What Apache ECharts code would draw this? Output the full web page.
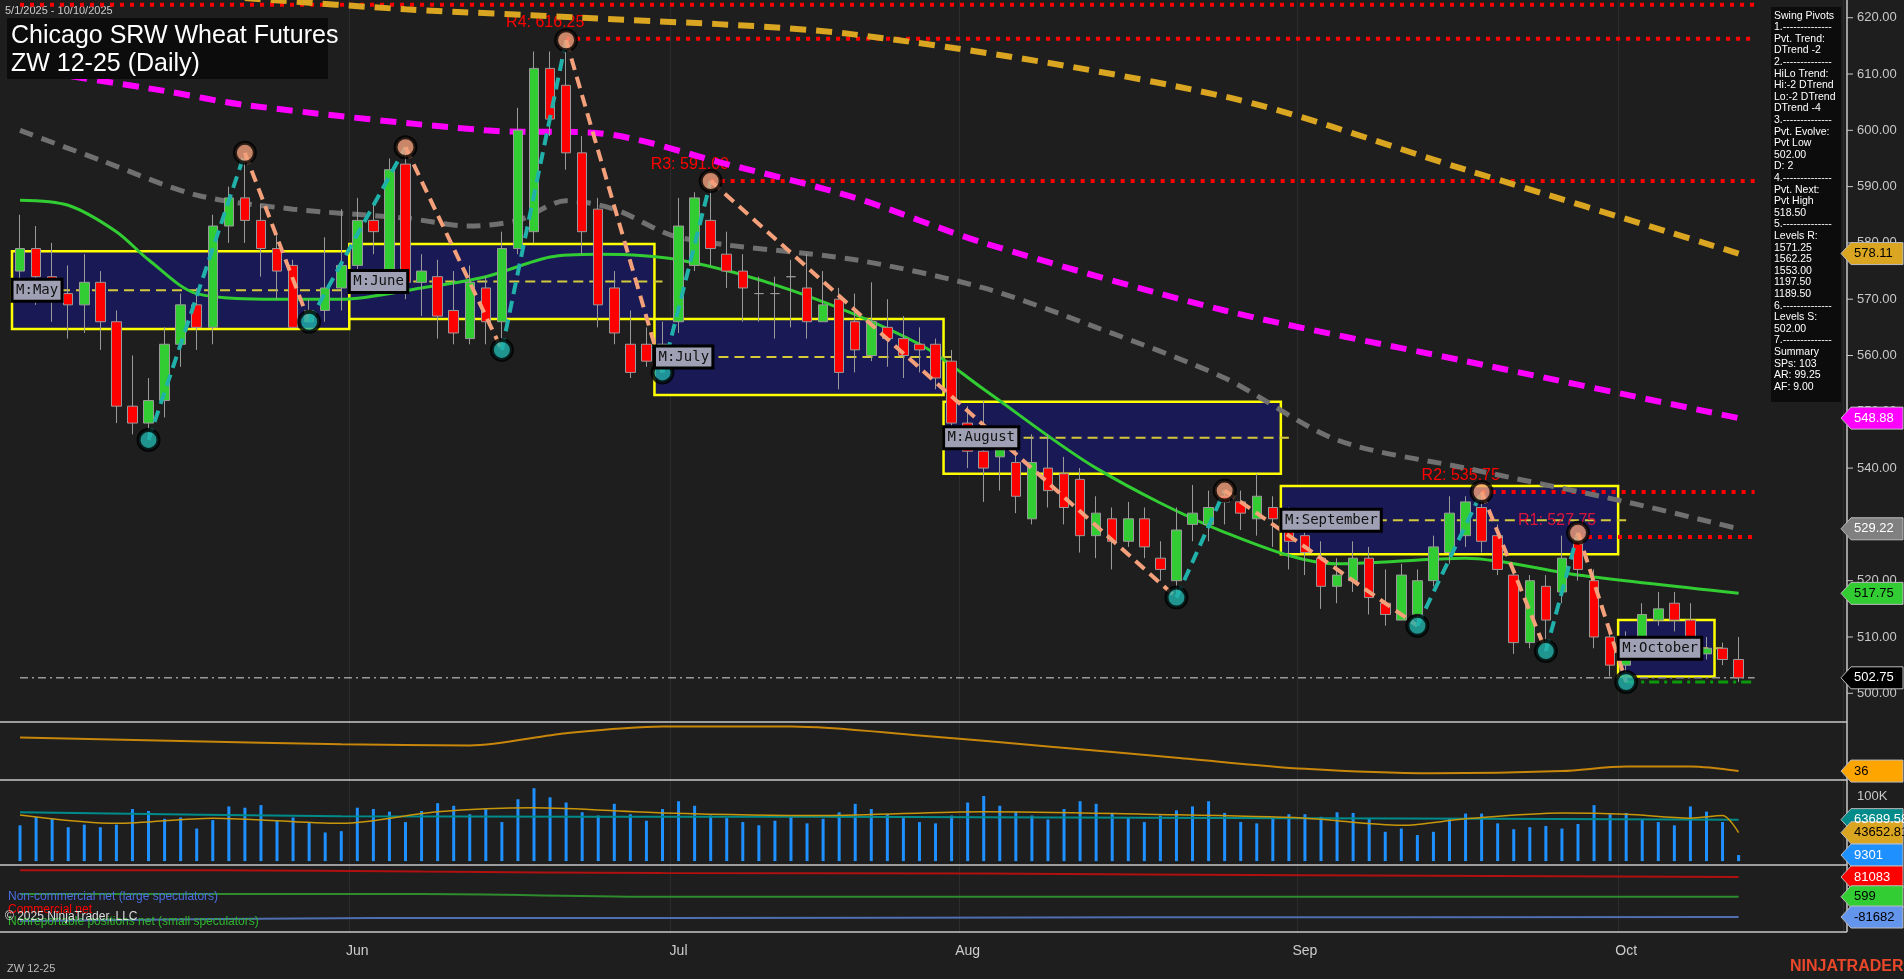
<!DOCTYPE html>
<html>
<head>
<meta charset="utf-8">
<script src="https://cdn.jsdelivr.net/npm/echarts@6/dist/echarts.min.js"></script>
<style>
  html, body { margin: 0; padding: 0; background: #1e1e1e; }
  #chart { width: 1904px; height: 979px; }
</style>
</head>
<body>
<div id="chart"></div>
<script>
// daily bars: [open, close, low, high]
const candles = [
  [575,579,570,585],[579,574,569,583],[574,571,566,580],[571,569,563,576],[569,573,564,578],
  [573,566,561,575],[566,551,548,568],[551,548,546,560],[548,552,545,556],[552,562,549,565],
  [562,569,558,571],[569,565,561,572],[565,583,562,585],[583,588,580,590],[588,584,580,596],
  [584,579,574,587],[579,575,570,582],[576,565,565,577],[566,568,566,570],[568,572,566,581],
  [572,576,568,586],[576,584,573,588],[584,582,578,587],[575,593,573,595],[594,573,570,597],
  [573,575,567,578],[574,567,563,577],[568,564,562,575],[563,573,562,576],[572,566,562,574],
  [566,579,561,582],[579,600,578,604],[582,611,580,614],[611,602,599,614],[608,596,593,616],
  [596,582,578,599],[586,569,565,588],[572,564,562,575],[562,557,556,568],[562,559,558,565],
  [559,562,557,566],[566,583,564,588],[576,588,575,589],[584,579,576,591],[578,575,572,582],
  [575,572,566,578],[571,571,566,574],[571,571,563,574],[574,574,565,577],[572,566,563,578],
  [566,569,566,575],[570,557,554,572],[566,561,557,571],[560,566,559,573],[565,563,558,570],
  [563,560,556,567],[562,561,557,565],[562,556,554,563],[559,548,545,561],[548,543,540,551],
  [543,540,534,552],[542,544,536,546],[541,535,532,544],[531,541,530,546],[540,536,533,546],
  [539,533,530,542],[538,528,525,540],[528,532,524,535],[531,527,522,533],[527,531,526,534],
  [531,526,524,533],[524,522,520,527],[520,529,517,533],[530,532,527,537],[530,533,527,536],
  [535,534,530,536],[534,532,529,536],[531,535,528,539],[533,531,526,535],[530,527,522,533],
  [528,525,521,532],[524,519,515,527],[519,521,516,524],[520,524,518,527],[524,517,514,526],
  [516,514,512,522],[513,521,513,523],[514,520,512,522],[520,526,519,528],[525,532,523,535],
  [528,534,526,535],[533,527,525,535.75],[528,522,521,530],[521,509,507,522],[509,520,508,521],
  [519,513,507.5,521],[518,524,516,528],[527,522,520,528.5],[520,510,508,522],[510,505,503,512],
  [505,510,502,511],[510,514,507,516],[513,515,512,518],[516,513,511,518],[513,507,506,516],
  [507,508,506,510],[508,506,505,509],[506,502.75,502,510]
];
const volumeK = [
  55,68,66,52,56,52,56,80,77,65, 67,50,63,84,82,86,62,67,60,44,
  46,82,80,76,60,77,89,85,72,80, 60,95,112,98,90,75,70,88,72,62,
  80,92,85,70,66,60,55,62,70,58, 65,75,88,80,72,66,60,58,70,90,
  100,85,76,70,64,80,92,88,74,66, 60,70,78,84,92,74,60,58,66,72,
  72,68,75,74,66,45,50,40,45,65, 73,73,58,49,52,54,50,57,86,72,
  74,64,60,55,84,76,60,9.301
];
const volAvgTeal = [[0,75],[20,69],[50,68],[80,66],[107,63.69]];
const volAvgGold = [[0,71],[6,58],[12,66],[20,58],[26,76],[32,82],[40,74],[50,70],[60,76],[70,72],[80,66],[86,55],[90,65],[96,74],[100,72],[104,66],[106,70],[107,43.65]];
const oscLine = [[0,51],[10,49.5],[20,48],[28,47.5],[34,53],[40,56],[48,56],[56,52],[64,47],[72,42],[80,37],[88,35],[96,36],[100,38],[104,38],[107,36]];
const cotCommercial = [[0,109],[12,109],[25,103],[40,97],[60,95],[80,88],[107,81.08]];
const cotSmall = [[0,12],[25,12],[40,0.6],[107,0.6]];
const cotLarge = [[0,-98],[22,-86],[40,-86],[70,-83],[107,-81.68]];
const maGreen = [[0,587.6],[3,586.7],[6,582],[8,577],[11,571],[16,570],[20,570],[25,572],[29,574],[33,577.5],[36,578],[41,577],[48,571.6],[56,562],[60,554],[67,540],[75,528.6],[82,523],[90,524],[97,521],[107,517.75]];
const maGray = [[0,600],[5,594.7],[11,588.5],[17,586],[24,584.4],[28,583],[31,584],[34,587.5],[37,586],[41,581],[52,577],[60,572],[67,565],[75,556],[82,545],[90,540],[100,534],[107,529.22]];
const maMagenta = [[0,611],[9,607],[14,604.5],[29,600],[36,599.5],[44,594],[52,588],[60,580],[75,568],[90,559],[107,548.88]];
const maOrange = [[14,623.5],[24,621.5],[35,620],[52,617],[75,606],[90,593],[107,578.11]];
const pivots = [[8,545,'L'],[14,596,'H'],[18,566,'L'],[24,597,'H'],[30,561,'L'],[34,616,'H'],[40,557,'L'],[43,591,'H'],[72,517,'L'],[75,536,'H'],[87,512,'L'],[91,535.75,'H'],[95,507.5,'L'],[97,528.5,'H'],[100,502,'L']];
const monthBoxes = [['May',0,20,564.7,578.5],['June',21,39,566.5,579.8],['July',40,57,553,566.5],['August',58,78,539,551.8],['September',79,99,524.7,536.8],['October',100,105,503,513]];
const levels = [['',0,622.3],['R4: 616.25',34,616.25],['R3: 591.00',43,591],['R2: 535.75',91,535.75],['R1: 527.75',97,527.75]];
const priceTicks = [500,510,520,530,540,550,560,570,580,590,600,610,620];
const monthTicks = {21:'Jun',41:'Jul',59:'Aug',80:'Sep',100:'Oct'};
const tags = [[578.11,'#DAA520','#000'],[548.88,'#FF00FF','#fff'],[529.22,'#808080','#fff'],[517.75,'#32CD32','#000'],[502.75,'#000','#fff']];
const pivotText = ['Swing Pivots','1.--------------','Pvt. Trend:','DTrend -2','2.--------------','HiLo Trend:','Hi:-2 DTrend','Lo:-2 DTrend','DTrend -4','3.--------------','Pvt. Evolve:','Pvt Low','502.00','D: 2','4.--------------','Pvt. Next:','Pvt High','518.50','5.--------------','Levels R:','1571.25','1562.25','1553.00','1197.50','1189.50','6.--------------','Levels S:','502.00','7.--------------','Summary','SPs: 103','AR: 99.25','AF: 9.00'];

const N = 114;
const cats = Array.from({length: N}, (_, i) => String(i));
const font = 'Arial, "Liberation Sans", sans-serif';

const chart = echarts.init(document.getElementById('chart'));
const grids = [
  {left: 12, width: 1831, top: 0, height: 722},
  {left: 12, width: 1831, top: 722, height: 58},
  {left: 12, width: 1831, top: 780, height: 85},
  {left: 12, width: 1831, top: 865, height: 67}
];
const xAxes = grids.map((g, i) => ({
  type: 'category', gridIndex: i, data: cats, boundaryGap: true,
  axisLine: {show: false}, axisTick: {show: false},
  axisLabel: {show: i === 3, color: '#ccc', fontSize: 14, fontFamily: font, margin: 12,
    interval: (idx) => monthTicks[idx] !== undefined, formatter: (v) => monthTicks[+v] || ''},
  splitLine: {show: true, interval: (idx) => monthTicks[idx] !== undefined, lineStyle: {color: '#2c2c2c'}}
}));
const yAxes = [
  {min: 494.9, max: 623.15},
  {min: 32, max: 58},
  {min: -6, max: 124.6},
  {min: -142.7, max: 129.9}
].map((r, i) => ({type: 'value', gridIndex: i, min: r.min, max: r.max, position: 'right',
  axisLabel: {show: false}, axisLine: {show: false}, axisTick: {show: false}, splitLine: {show: false}}));

const lineS = (data, color, width, type, xi) => ({
  type: 'line', xAxisIndex: xi || 0, yAxisIndex: xi || 0, data, symbol: 'none', smooth: 0.3,
  lineStyle: {color, width, type: type || 'solid'}, z: 3, silent: true
});

const series = [];
// month boxes
series.push({
  type: 'custom', xAxisIndex: 0, yAxisIndex: 0, z: 1, silent: true,
  data: monthBoxes.map(b => [b[1], b[2], b[3], b[4]]),
  renderItem: (params, api) => {
    const bw = api.size([1, 0])[0];
    const p1 = api.coord([api.value(0), api.value(3)]);
    const p2 = api.coord([api.value(1), api.value(2)]);
    const x1 = p1[0] - bw / 2, x2 = p2[0] + bw / 2;
    const mid = api.coord([0, (api.value(2) + api.value(3)) / 2])[1];
    return {type: 'group', children: [
      {type: 'rect', shape: {x: x1, y: p1[1], width: x2 - x1, height: p2[1] - p1[1]},
        style: {fill: '#191a55', stroke: '#ffff00', lineWidth: 2.5}},
      {type: 'line', shape: {x1: x1, y1: mid, x2: x2 + 8, y2: mid},
        style: {stroke: '#d4c93a', lineWidth: 2, lineDash: [10, 6]}}
    ]};
  }
});
// moving averages
series.push(lineS(maOrange, '#DAA520', 6, [16, 10]));
series.push(lineS(maMagenta, '#FF00FF', 6, [16, 10]));
series.push(lineS(maGray, '#707070', 5, [14, 9]));
series.push(lineS(maGreen, '#32CD32', 3));
// levels
levels.forEach(l => series.push({type: 'line', data: [[l[1], l[2]], [107.6, l[2]]], symbol: 'none', silent: true, z: 2,
  lineStyle: {color: '#ff0000', width: 4, type: [4, 6]}}));
series.push({type: 'line', data: [[100, 502], [107.6, 502]], symbol: 'none', silent: true, z: 2, lineStyle: {color: '#0a9a0a', width: 3, type: [10, 5, 3, 5]}});
series.push({type: 'line', data: [[0, 502.75], [107.6, 502.75]], symbol: 'none', silent: true, z: 2, lineStyle: {color: '#999', width: 1.5, type: [8, 4, 2, 4]}});
// candles
series.push({
  type: 'candlestick', data: candles, barWidth: 10, z: 4,
  itemStyle: {color: '#32CD32', color0: '#FF0000', borderColor: '#9a9a9a', borderColor0: '#9a9a9a', borderWidth: 1}
});
// zigzag legs
const legs = [];
for (let i = 0; i < pivots.length - 1; i++) {
  const a = pivots[i], b = pivots[i + 1];
  legs.push({coords: [[a[0], a[1]], [b[0], b[1]]], lineStyle: {color: a[2] === 'H' ? '#F4A07A' : '#20B2AA'}});
}
series.push({type: 'lines', coordinateSystem: 'cartesian2d', xAxisIndex: 0, yAxisIndex: 0, data: legs, z: 5, silent: true,
  lineStyle: {width: 4, type: [12, 7], opacity: 1}});
series.push({type: 'scatter', data: pivots.map(p => ({value: [p[0], p[1]],
  itemStyle: {color: p[2] === 'H' ? '#F4A07A' : '#20B2AA', borderColor: '#000', borderWidth: 4}})),
  symbolSize: 20, z: 6, silent: true});
// oscillator panel
series.push(lineS(oscLine, '#C8860A', 2, 'solid', 1));
// volume panel
series.push({type: 'bar', xAxisIndex: 2, yAxisIndex: 2, data: volumeK, barWidth: 3, itemStyle: {color: '#1E90FF'}, z: 2, silent: true});
series.push(lineS(volAvgTeal, '#008B8B', 2, 'solid', 2));
series.push(lineS(volAvgGold, '#C8960A', 1.5, 'solid', 2));
// COT panel
series.push(lineS(cotCommercial, '#B01010', 2, 'solid', 3));
series.push(lineS(cotSmall, '#2E8B2E', 2, 'solid', 3));
series.push(lineS(cotLarge, '#4F6FB0', 2, 'solid', 3));

chart.setOption({
  backgroundColor: '#1e1e1e', animation: false,
  grid: grids, xAxis: xAxes, yAxis: yAxes, series
});

// overlay texts and axis decorations
const g = [];
const AX = 1847;
const yP = (v, i) => chart.convertToPixel({yAxisIndex: i || 0}, v);
const xP = (v) => chart.convertToPixel({xAxisIndex: 0}, v);
[722, 780, 865, 932].forEach(y => g.push({type: 'line', shape: {x1: 0, y1: y, x2: AX, y2: y}, style: {stroke: '#c8c8c8', lineWidth: 1.5}}));
g.push({type: 'line', shape: {x1: AX, y1: 0, x2: AX, y2: 932}, style: {stroke: '#c8c8c8', lineWidth: 1.5}});
priceTicks.forEach(v => {
  const y = yP(v);
  g.push({type: 'line', shape: {x1: AX, y1: y, x2: AX + 6, y2: y}, style: {stroke: '#c8c8c8'}});
  g.push({type: 'text', x: AX + 10, y: y, style: {text: v.toFixed(2), fill: '#c8c8c8', font: '13px ' + font, verticalAlign: 'middle'}});
});
g.push({type: 'text', x: AX + 10, y: yP(100, 2), style: {text: '100K', fill: '#c8c8c8', font: '13px ' + font, verticalAlign: 'middle'}});
const tag = (y, bg, fg, txt) => {
  g.push({type: 'polygon', shape: {points: [[AX - 6, y], [AX + 4, y - 11], [1903, y - 11], [1903, y + 11], [AX + 4, y + 11]]},
    style: {fill: bg, stroke: '#bbb', lineWidth: 1}, z: 10});
  g.push({type: 'text', x: AX + 7, y: y, z: 11, style: {text: txt, fill: fg, font: '13px ' + font, verticalAlign: 'middle'}});
};
tags.forEach(t => tag(yP(t[0]), t[1], t[2], t[0].toFixed(2)));
tag(yP(36, 1), '#FFA500', '#000', '36');
tag(yP(63.69, 2), '#008B8B', '#fff', '63689.58');
tag(yP(43.65, 2), '#DAA520', '#000', '43652.81');
tag(yP(9.301, 2), '#1E90FF', '#fff', '9301');
tag(yP(81.08, 3), '#FF0000', '#fff', '81083');
tag(yP(0.6, 3), '#32CD32', '#000', '599');
tag(yP(-81.68, 3), '#6495ED', '#000', '-81682');
// level labels
levels.forEach(l => { if (l[0]) g.push({type: 'text', x: xP(l[1]) - 60, y: yP(l[2]) - 24, z: 2,
  style: {text: l[0], fill: l[0].startsWith('R1') ? '#DC143C' : '#ff0000', font: '16px ' + font}}); });
// month labels
monthBoxes.forEach(b => {
  const x = xP(b[1]) - 8, y = yP((b[3] + b[4]) / 2);
  const t = 'M:' + b[0];
  g.push({type: 'rect', shape: {x: x, y: y - 11, width: t.length * 8.4 + 8, height: 22}, style: {fill: '#a0a0b4', stroke: '#000', lineWidth: 3}, z: 7});
  g.push({type: 'text', x: x + 4, y: y, z: 8, style: {text: t, fill: '#111', font: '14px "DejaVu Sans Mono", monospace', verticalAlign: 'middle'}});
});
// title
g.push({type: 'text', x: 5, y: 5, style: {text: '5/1/2025 - 10/10/2025', fill: '#ccc', font: '11px ' + font}});
g.push({type: 'rect', shape: {x: 7, y: 18, width: 321, height: 61}, style: {fill: '#0c0c0c'}, z: 9});
g.push({type: 'text', x: 11, y: 22, z: 10, style: {text: 'Chicago SRW Wheat Futures\nZW 12-25 (Daily)', fill: '#fff', font: '25px ' + font, lineHeight: 28}});
// pivots info box
g.push({type: 'rect', shape: {x: 1771, y: 7, width: 70, height: 395}, style: {fill: '#0c0c0c'}, z: 9});
g.push({type: 'text', x: 1774, y: 10, z: 10, style: {text: pivotText.join('\n'), fill: '#fff', font: '10.5px ' + font, lineHeight: 11.6}});
// COT legend
g.push({type: 'text', x: 8, y: 891, z: 10, style: {text: 'Non-commercial net (large speculators)', fill: '#4a6fe0', font: '12px ' + font}});
g.push({type: 'text', x: 8, y: 904, z: 10, style: {text: 'Commercial net', fill: '#ff0000', font: '12px ' + font}});
g.push({type: 'text', x: 8, y: 916, z: 10, style: {text: 'Nonreportable positions net (small speculators)', fill: '#2eb82e', font: '12px ' + font}});
g.push({type: 'text', x: 5, y: 911, z: 11, style: {text: '© 2025 NinjaTrader, LLC', fill: '#ddd', font: '12px ' + font}});
g.push({type: 'text', x: 7, y: 963, style: {text: 'ZW 12-25', fill: '#bbb', font: '11px ' + font}});
g.push({type: 'text', x: 1790, y: 959, style: {text: 'NINJATRADER', fill: '#E8472A', font: 'bold 16px ' + font}});
chart.setOption({graphic: g});
</script>
</body>
</html>
